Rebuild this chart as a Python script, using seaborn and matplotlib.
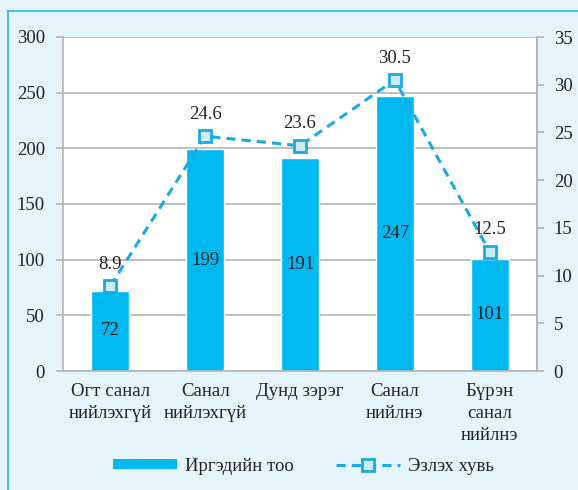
import matplotlib
matplotlib.use("Agg")
import matplotlib.pyplot as plt
import numpy as np
import pandas as pd
import seaborn as sns
from matplotlib.lines import Line2D
from matplotlib.patches import Patch

categories = ["Огт санал\nнийлэхгүй", "Санал\nнийлэхгүй", "Дунд зэрэг", "Санал\nнийлнэ", "Бүрэн\nсанал\nнийлнэ"]
counts = [72, 199, 191, 247, 101]
shares = [8.9, 24.6, 23.6, 30.5, 12.5]

BAR = "#00B9F1"
LINE = "#1BA9E2"
BG = "#E6F4FC"
GRID = "#B3B3B3"
TXT = "#222222"

sns.set_style("white")
plt.rcParams["font.family"] = ["Liberation Serif", "DejaVu Serif"]
plt.rcParams["font.size"] = 13.5

df = pd.DataFrame({"cat": categories, "count": counts, "share": shares})

fig = plt.figure(figsize=(5.78, 4.9), dpi=100, facecolor=BG)
ax = fig.add_axes([63 / 578, 1 - 371 / 490, 474 / 578, 334 / 490])
ax.set_facecolor("white")

sns.barplot(data=df, x="cat", y="count", color=BAR, width=0.4, saturation=1, ax=ax, zorder=2)
ax.set_ylim(0, 300)
ax.set_yticks(range(0, 301, 50))
ax.yaxis.grid(True, color=GRID, linewidth=1.2, zorder=0)
ax.set_axisbelow(True)
ax.set_xlabel("")
ax.set_ylabel("")
ax.set_xticks(np.arange(-0.5, 5, 1), minor=True)
ax.tick_params(axis="x", which="major", length=0, pad=9, labelcolor=TXT)
ax.tick_params(axis="x", which="minor", length=5, color=GRID, width=1.2)
ax.tick_params(axis="y", length=5, pad=8, color=GRID, width=1.2, labelcolor=TXT)
for lbl in ax.get_xticklabels():
    lbl.set_linespacing(1.35)
ax.set_xlim(-0.5, 4.5)
ax.spines["top"].set_visible(False)
for s in ["left", "bottom", "right"]:
    ax.spines[s].set_color(GRID)
    ax.spines[s].set_linewidth(1.2)

for i, v in enumerate(counts):
    ax.text(i, v / 2, str(v), ha="center", va="center", color=TXT, zorder=5)

ax2 = ax.twinx()
ax2.plot(range(5), shares, color=LINE, linestyle=(0, (3, 2)), linewidth=2.2,
         marker="s", markersize=9, markerfacecolor="#CDEBF8", markeredgecolor=LINE,
         markeredgewidth=2, zorder=4)
ax2.set_ylim(0, 35)
ax2.set_yticks(range(0, 36, 5))
ax2.tick_params(axis="y", length=5, pad=7, color=GRID, width=1.2, labelcolor=TXT)
for s in ["top", "left", "bottom"]:
    ax2.spines[s].set_visible(False)
ax2.spines["right"].set_color(GRID)
ax2.spines["right"].set_linewidth(1.2)
for i, v in enumerate(shares):
    ax2.text(i, v + 1.4, f"{v}", ha="center", va="bottom", color=TXT, zorder=5)

handles = [
    Patch(facecolor=BAR, edgecolor="none"),
    Line2D([0], [0], color=LINE, linestyle=(0, (3, 2)), linewidth=2.2, marker="s",
           markersize=9, markerfacecolor="#CDEBF8", markeredgecolor=LINE, markeredgewidth=2),
]
fig.legend(handles, ["Иргэдийн тоо", "Эзлэх хувь"], loc="center", bbox_to_anchor=(0.525, 1 - 466 / 490),
           ncol=2, frameon=False, handlelength=3.4, handleheight=0.5, handletextpad=0.4,
           columnspacing=2.3, labelcolor=TXT)

# outer frame lines (left and top)
fig.add_artist(Line2D([8 / 578, 8 / 578], [0, 1 - 11 / 490], transform=fig.transFigure, color="#2FB2E8", linewidth=1.2))
fig.add_artist(Line2D([8 / 578, 1], [1 - 11 / 490, 1 - 11 / 490], transform=fig.transFigure, color="#2FB2E8", linewidth=1.2))

fig.savefig("out.png", dpi=100, facecolor=BG)
